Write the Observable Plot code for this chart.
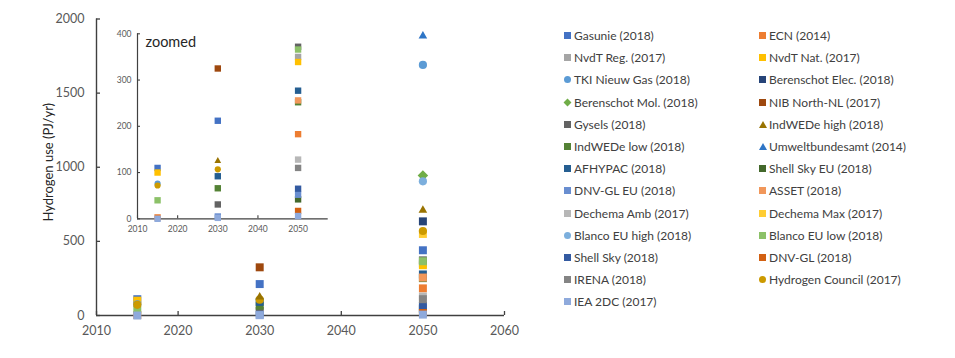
<!DOCTYPE html>
<html><head><meta charset="utf-8">
<script src="https://cdn.jsdelivr.net/npm/d3@7"></script>
<script src="https://cdn.jsdelivr.net/npm/@observablehq/plot@0.6"></script>
<style>
body{margin:0;background:#fff;font-family:Lato,sans-serif;}
#wrap{position:relative;width:955px;height:358px;overflow:hidden;background:#fff}
#main,#inset{position:absolute;left:0;top:0}
#legend{position:absolute;left:0;top:0}
.li{position:absolute;font-size:12px;color:#404040;white-space:nowrap;line-height:14px;height:14px}
.sw{position:absolute;left:0;top:3px;width:7px;height:7px}
.li span.t{position:absolute;left:10px;top:0}
</style></head><body><div id="wrap"><div id="main"></div><div id="inset"></div><div id="legend"></div></div>
<script>
const seriesNames = ["Gasunie (2018)","ECN (2014)","NvdT Reg. (2017)","NvdT Nat. (2017)","TKI Nieuw Gas (2018)","Berenschot Elec. (2018)","Berenschot Mol. (2018)","NIB North-NL (2017)","Gysels (2018)","IndWEDe high (2018)","IndWEDe low (2018)","Umweltbundesamt (2014)","AFHYPAC (2018)","Shell Sky EU (2018)","DNV-GL EU (2018)","ASSET (2018)","Dechema Amb (2017)","Dechema Max (2017)","Blanco EU high (2018)","Blanco EU low (2018)","Shell Sky (2018)","DNV-GL (2018)","IRENA (2018)","Hydrogen Council (2017)","IEA 2DC (2017)"];
const seriesColors = ["#4472C4","#ED7D31","#A5A5A5","#FFC000","#5B9BD5","#264478","#70AD47","#9E480E","#636363","#997300","#548235","#2E75C6","#255E91","#43682B","#698ED0","#F1975A","#B7B7B7","#FFCD33","#7CAFDD","#8CC168","#335AA1","#D26012","#848484","#CC9A00","#8FAADC"];
const seriesShapes = ["square","square","square","square","circle","square","diamond","square","square","triangle","square","triangle","square","square","square","square","square","square","circle","square","square","square","square","circle","square"];
const years = [2015, 2030, 2050];
const values2015 = [110,3,null,100,76,null,null,null,null,null,null,null,null,null,null,null,null,null,null,40,null,null,null,72,0];
const values2030 = [212,null,null,null,null,null,null,325,31,125,66,null,92,null,5,null,null,null,null,null,null,null,null,107,2];
const values2050 = [440,183,350,339,1690,635,945,null,372,710,252,1885,277,42,52,256,128,550,905,366,65,17,110,570,6];
const mainXTicks = [2010,2020,2030,2040,2050,2060];
const mainYTicks = [0,500,1000,1500,2000];
const insetXTicks = [2010,2020,2030,2040,2050];
const insetYTicks = [0,100,200,300,400];
const yLabel = "Hydrogen use (PJ/yr)";
const insetLabel = "zoomed";

// Excel-like square diamond marker
const squareDiamond = {draw(ctx, size) { const h = Math.sqrt(size / 2); ctx.moveTo(0, -h); ctx.lineTo(h, 0); ctx.lineTo(0, h); ctx.lineTo(-h, 0); ctx.closePath(); }};
const symbolOf = s => s === "diamond" ? squareDiamond : s;

const valuesByYear = [values2015, values2030, values2050];
const points = [];
seriesNames.forEach((name, i) => {
  years.forEach((yr, j) => {
    const v = valuesByYear[j][i];
    if (v != null) points.push({name, year: yr, value: v, color: seriesColors[i], shape: seriesShapes[i]});
  });
});

const mainR = {square: 4.5, circle: 4.1, triangle: 3.2, diamond: 4.2};
const insetR = {square: 3.6, circle: 3.1, triangle: 2.5, diamond: 3.3};

const axisColor = "#404040";
const labelColor = "#595959";
const W = 540, H = 358;
const font = "Lato, sans-serif";

// main chart
const mTop = 18.5, mBottom = 43, mLeft = 96, mRight = 36;
const mPlotH = H - mTop - mBottom, mPlotW = W - mLeft - mRight;
const tickPx = 4;
const main = Plot.plot({
  width: W, height: H, marginLeft: mLeft, marginRight: mRight, marginTop: mTop, marginBottom: mBottom,
  style: {fontFamily: font, background: "transparent", color: labelColor},
  x: {domain: [mainXTicks[0], mainXTicks[mainXTicks.length-1]]},
  y: {domain: [mainYTicks[0], mainYTicks[mainYTicks.length-1]]},
  r: {type: "identity"},
  marks: [
    Plot.axisX(mainXTicks, {tickSize: 0, tickPadding: 11, tickFormat: d => String(d), fontSize: 12.5, fill: labelColor, label: null}),
    Plot.axisY(mainYTicks, {tickSize: 0, tickPadding: 12, tickFormat: d => String(d), fontSize: 12.5, fill: labelColor, label: null}),
    Plot.text([yLabel], {frameAnchor: "left", textAnchor: "middle", lineAnchor: "middle", rotate: -90, dx: -48, dy: -5, fontSize: 13, fill: "#262626"}),
    Plot.ruleX(mainXTicks, {x: d => d, y1: 0, y2: 2000 * tickPx / mPlotH, stroke: axisColor, strokeWidth: 1.3}),
    Plot.ruleY(mainYTicks, {y: d => d, x1: 2010, x2: 2010 + 50 * tickPx / mPlotW, stroke: axisColor, strokeWidth: 1.3}),
    Plot.ruleY([0], {stroke: axisColor, strokeWidth: 1.4}),
    Plot.ruleX([2010], {stroke: axisColor, strokeWidth: 1.4}),
    Plot.dot(points, {x: "year", y: "value", fill: "color", symbol: d => symbolOf(d.shape), r: d => mainR[d.shape], stroke: "none"})
  ]
});
document.getElementById("main").append(main);

// inset
const iLeft = 137, iRightX = 327.7, iTop = 33.3, iBottomY = 218.3;
const iPlotH = iBottomY - iTop, iPlotW = iRightX - iLeft;
const inset = Plot.plot({
  width: W, height: H, marginLeft: iLeft, marginRight: W - iRightX, marginTop: iTop, marginBottom: H - iBottomY,
  style: {fontFamily: font, background: "transparent", color: labelColor},
  x: {domain: [2010, 2057.5]},
  y: {domain: [0, 400]},
  r: {type: "identity"},
  marks: [
    Plot.axisX(insetXTicks, {tickSize: 0, tickPadding: 7, tickFormat: d => String(d), fontSize: 8.5, fill: labelColor, label: null}),
    Plot.axisY(insetYTicks, {tickSize: 0, tickPadding: 6, tickFormat: d => String(d), fontSize: 8.5, fill: labelColor, label: null}),
    Plot.ruleX(insetXTicks, {x: d => d, y1: 0, y2: 400 * 3 / iPlotH, stroke: axisColor, strokeWidth: 1.1}),
    Plot.ruleY(insetYTicks, {y: d => d, x1: 2010, x2: 2010 + 47.5 * 3 / iPlotW, stroke: axisColor, strokeWidth: 1.1}),
    Plot.ruleY([0], {stroke: axisColor, strokeWidth: 1.2}),
    Plot.ruleX([2010], {stroke: axisColor, strokeWidth: 1.2}),
    Plot.text([insetLabel], {frameAnchor: "top-left", textAnchor: "start", lineAnchor: "middle", dx: 8, dy: 8.5, fontSize: 14.5, fill: "#262626"}),
    Plot.dot(points.filter(d => d.value <= 400), {x: "year", y: "value", fill: "color", symbol: d => symbolOf(d.shape), r: d => insetR[d.shape], stroke: "none"})
  ]
});
document.getElementById("inset").append(inset);

// legend
const leg = document.getElementById("legend");
const colX = [564, 759];
const row0 = 29, rowH = 22.2;
seriesNames.forEach((name, i) => {
  const col = i % 2, row = Math.floor(i / 2);
  const d = document.createElement("div");
  d.className = "li";
  d.style.left = colX[col] + "px";
  d.style.top = (row0 + row * rowH) + "px";
  const sw = document.createElement("div");
  sw.className = "sw";
  const c = seriesColors[i], s = seriesShapes[i];
  if (s === "square") { sw.style.background = c; }
  else if (s === "circle") { sw.style.background = c; sw.style.borderRadius = "50%"; }
  else if (s === "diamond") { sw.style.background = c; sw.style.transform = "rotate(45deg) scale(0.8)"; }
  else if (s === "triangle") { sw.style.width = "0"; sw.style.height = "0"; sw.style.borderLeft = "4px solid transparent"; sw.style.borderRight = "4px solid transparent"; sw.style.borderBottom = "7px solid " + c; sw.style.top = "3px"; sw.style.left = "-0.5px"; }
  d.append(sw);
  const t = document.createElement("span");
  t.className = "t"; t.textContent = name;
  d.append(t);
  leg.append(d);
});
</script></body></html>
